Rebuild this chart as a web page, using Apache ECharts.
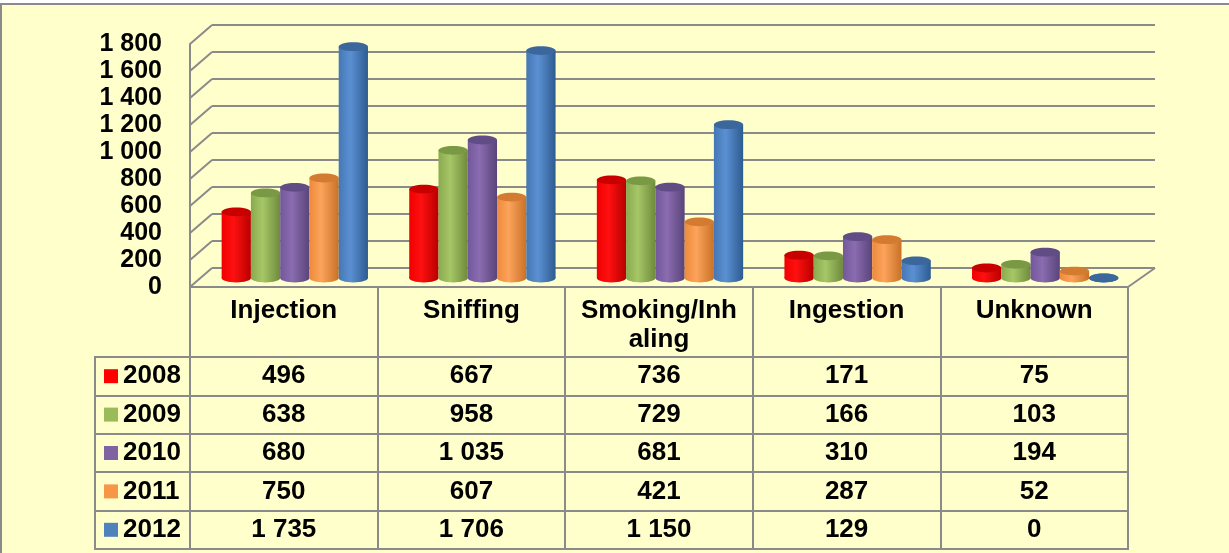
<!DOCTYPE html>
<html>
<head>
<meta charset="utf-8">
<script src="https://cdn.jsdelivr.net/npm/echarts@6/dist/echarts.min.js"></script>
<style>
  html, body { margin: 0; padding: 0; background: #fff; }
  #chart { width: 1229px; height: 553px; }
</style>
</head>
<body>
<div id="chart"></div>
<script>
var categories = ['Injection', 'Sniffing', 'Smoking/Inhaling', 'Ingestion', 'Unknown']
var years = ['2008', '2009', '2010', '2011', '2012']
var v2008 = [496, 667, 736, 171, 75]
var v2009 = [638, 958, 729, 166, 103]
var v2010 = [680, 1035, 681, 310, 194]
var v2011 = [750, 607, 421, 287, 52]
var v2012 = [1735, 1706, 1150, 129, 0]
var yTicks = [0, 200, 400, 600, 800, 1000, 1200, 1400, 1600, 1800]

var seriesValues = [v2008, v2009, v2010, v2011, v2012]
var colors = ['#ff0000', '#9bbb59', '#8064a2', '#f79646', '#4f81bd']
// left / middle / right shade of each cylinder, and its top cap
var shades = [
  ['#f00000', '#ff1010', '#b80000'],
  ['#8aa94f', '#a6c767', '#6f8a3c'],
  ['#72589a', '#8a6cb0', '#5a4479'],
  ['#ee8a3a', '#fca35c', '#c87226'],
  ['#4677b4', '#5a90d2', '#2e5b90']
]
var topColors = ['#c80000', '#7a9944', '#624c86', '#d47b32', '#3b679c']

var LINE = '#8a8a8a'
var FONT = "'Liberation Sans', Arial, sans-serif"
var TFS = 26

function fmt(v) {
  v = Number(v)
  return v >= 1000 ? Math.floor(v / 1000) + ' ' + String(v % 1000).padStart(3, '0') : String(v)
}

function makeCylinder(k) {
  return function (params, api) {
    var cat = api.value(0), val = api.value(1)
    var base = api.coord([cat, 0])
    var top = api.coord([cat, val])
    var band = api.size([1, 0])[0]
    var bw = band * 0.78 / years.length
    var x0 = base[0] - bw * years.length / 2 + k * bw
    var ry = bw * 0.15
    var body = {
      type: 'linear', x: 0, y: 0, x2: 1, y2: 0,
      colorStops: [
        { offset: 0, color: shades[k][0] },
        { offset: 0.4, color: shades[k][1] },
        { offset: 1, color: shades[k][2] }
      ]
    }
    return {
      type: 'group',
      children: [
        { type: 'ellipse', shape: { cx: x0 + bw / 2, cy: base[1], rx: bw / 2, ry: ry }, style: { fill: body } },
        { type: 'rect', shape: { x: x0, y: top[1], width: bw, height: base[1] - top[1] }, style: { fill: body } },
        { type: 'ellipse', shape: { cx: x0 + bw / 2, cy: top[1], rx: bw / 2, ry: ry }, style: { fill: topColors[k] } }
      ]
    }
  }
}

function cellText(params, api) {
  var p = api.coord([api.value(0), api.value(1)])
  return {
    type: 'text', x: p[0], y: p[1],
    style: {
      text: fmt(api.value(2)), fontSize: TFS, fontWeight: 'bold', fontFamily: FONT,
      fill: '#000', align: 'center', verticalAlign: 'middle'
    }
  }
}

var tableData = []
years.forEach(function (y, j) {
  categories.forEach(function (c, i) { tableData.push([i, j, seriesValues[j][i]]) })
})

var rich = { t: { fontSize: TFS, fontWeight: 'bold', fontFamily: FONT, color: '#000', padding: [0, 0, 0, 5] } }
colors.forEach(function (c, i) { rich['s' + i] = { width: 14, height: 14, backgroundColor: c } })

var split = { show: true, interval: 0, lineStyle: { color: LINE, width: 2 } }
var box = { show: true, borderColor: LINE, borderWidth: 2, backgroundColor: 'transparent' }

var chart = echarts.init(document.getElementById('chart'))
var option = {
  animation: false,
  textStyle: { fontFamily: FONT },
  graphic: [
    { type: 'rect', z: -10, shape: { x: 1, y: 4, width: 1240, height: 560 }, style: { fill: '#ffffcc', stroke: LINE, lineWidth: 2 } }
  ],
  grid: [
    { left: 201, right: 90, top: 38, bottom: 275 },   // bars, mid depth
    { left: 190, right: 101, top: 44, bottom: 266 },  // front edge of the box
    { left: 212, right: 74, top: 25, bottom: 285 },   // back wall
    Object.assign({ left: 190, right: 101, top: 287, bottom: 196 }, box), // header row
    Object.assign({ left: 190, right: 101, top: 357, bottom: 4 }, box),   // table body
    Object.assign({ left: 95, width: 95, top: 357, bottom: 4 }, box)      // legend column
  ],
  xAxis: [
    { gridIndex: 0, type: 'category', data: categories, show: false },
    { gridIndex: 1, type: 'value', min: 0, max: 5, show: false },
    { gridIndex: 2, type: 'value', min: 0, max: 5, show: false },
    {
      gridIndex: 3, type: 'category', data: categories, position: 'top',
      axisLine: { show: false }, axisTick: { show: false },
      axisLabel: {
        inside: true, margin: 9, interval: 0, fontSize: TFS, fontWeight: 'bold', color: '#000',
        fontFamily: FONT, width: 162, overflow: 'breakAll', lineHeight: 29
      },
      splitLine: split
    },
    {
      gridIndex: 4, type: 'category', data: categories,
      axisLine: { show: false }, axisTick: { show: false }, axisLabel: { show: false }, splitLine: split
    },
    { gridIndex: 5, type: 'value', show: false }
  ],
  yAxis: [
    { gridIndex: 0, type: 'value', min: 0, max: 1800, show: false },
    {
      gridIndex: 1, type: 'value', min: 0, max: 1800, interval: 200,
      axisLine: { show: true, lineStyle: { color: LINE, width: 2 } }, axisTick: { show: false },
      splitLine: { show: false },
      axisLabel: { margin: 28, fontSize: 25, fontWeight: 'bold', color: '#000', fontFamily: FONT, formatter: fmt }
    },
    {
      gridIndex: 2, type: 'value', min: 0, max: 1800, interval: 200,
      axisLine: { show: false }, axisTick: { show: false }, axisLabel: { show: false },
      splitLine: { show: true, lineStyle: { color: LINE, width: 2 } }
    },
    { gridIndex: 3, type: 'value', show: false },
    {
      gridIndex: 4, type: 'category', data: years, inverse: true,
      axisLine: { show: false }, axisTick: { show: false }, axisLabel: { show: false }, splitLine: split
    },
    {
      gridIndex: 5, type: 'category', data: years, inverse: true,
      axisLine: { show: false }, axisTick: { show: false }, splitLine: split,
      axisLabel: {
        inside: true, margin: 9,
        formatter: function (v, i) { return '{s' + i + '|}{t|' + v + '}' },
        rich: rich
      }
    }
  ],
  series: years.map(function (y, k) {
    return {
      type: 'custom', name: y, xAxisIndex: 0, yAxisIndex: 0, z: 3,
      data: seriesValues[k].map(function (v, i) { return [i, v] }),
      renderItem: makeCylinder(k)
    }
  }).concat([{
    type: 'custom', xAxisIndex: 4, yAxisIndex: 4, data: tableData, renderItem: cellText
  }])
}
chart.setOption(option)

// slanted edges of the box: front wall ticks joined to back wall ticks
var frame = yTicks.map(function (v) {
  var f = chart.convertToPixel({ gridIndex: 1 }, [0, v])
  var b = chart.convertToPixel({ gridIndex: 2 }, [0, v])
  return { type: 'line', z: 1, shape: { x1: f[0], y1: f[1], x2: b[0], y2: b[1] }, style: { stroke: LINE, lineWidth: 2 } }
})
var fr = chart.convertToPixel({ gridIndex: 1 }, [5, 0])
var br = chart.convertToPixel({ gridIndex: 2 }, [5, 0])
frame.push({ type: 'line', z: 1, shape: { x1: fr[0], y1: fr[1], x2: br[0], y2: br[1] }, style: { stroke: LINE, lineWidth: 2 } })
chart.setOption({ graphic: option.graphic.concat(frame) })
</script>
</body>
</html>
